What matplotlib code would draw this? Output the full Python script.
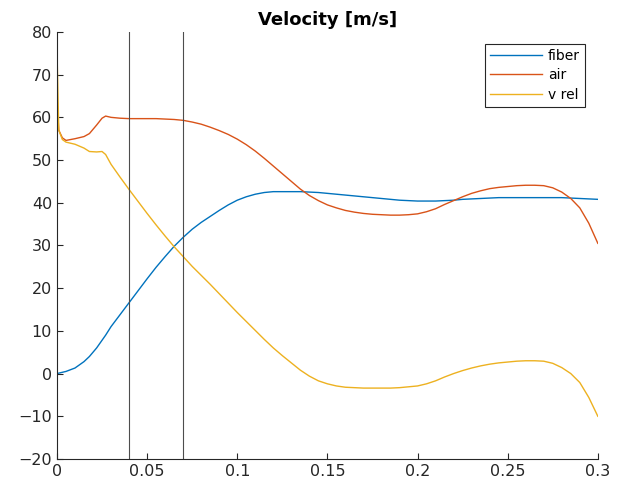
import numpy as np
import matplotlib.pyplot as plt

# values (x in m, velocity in m/s)
x = [0, 0.001, 0.003, 0.005, 0.01, 0.015, 0.018, 0.022, 0.025, 0.027, 0.03,
     0.035, 0.04, 0.045, 0.05, 0.055, 0.06, 0.065, 0.07, 0.075, 0.08, 0.085,
     0.09, 0.095, 0.1, 0.105, 0.11, 0.115, 0.12, 0.125, 0.13, 0.135, 0.14,
     0.145, 0.15, 0.155, 0.16, 0.165, 0.17, 0.175, 0.18, 0.185, 0.19, 0.195,
     0.2, 0.205, 0.21, 0.215, 0.22, 0.225, 0.23, 0.235, 0.24, 0.245, 0.25,
     0.255, 0.26, 0.265, 0.27, 0.275, 0.28, 0.285, 0.29, 0.295, 0.3]

fiber = [0, 0.1, 0.3, 0.5, 1.3, 2.8, 4.0, 6.0, 7.8, 9.0, 11.0,
         13.8, 16.6, 19.4, 22.2, 24.9, 27.4, 29.8, 31.9, 33.8, 35.4, 36.8,
         38.2, 39.5, 40.6, 41.4, 42.0, 42.4, 42.6, 42.6, 42.6, 42.6, 42.5,
         42.4, 42.2, 42.0, 41.8, 41.6, 41.4, 41.2, 41.0, 40.8, 40.6, 40.5,
         40.4, 40.4, 40.4, 40.5, 40.6, 40.8, 40.9, 41.0, 41.1, 41.2, 41.2,
         41.2, 41.2, 41.2, 41.2, 41.2, 41.2, 41.1, 41.0, 40.9, 40.8]

air = [64.0, 57.0, 55.2, 54.6, 55.0, 55.5, 56.2, 58.2, 59.8, 60.3, 60.0,
       59.8, 59.7, 59.7, 59.7, 59.7, 59.6, 59.5, 59.3, 58.9, 58.4, 57.7,
       56.9, 56.0, 54.9, 53.6, 52.1, 50.4, 48.6, 46.8, 45.0, 43.2, 41.7,
       40.5, 39.5, 38.8, 38.2, 37.8, 37.5, 37.3, 37.2, 37.1, 37.1, 37.2,
       37.4, 37.9, 38.6, 39.6, 40.5, 41.4, 42.2, 42.8, 43.3, 43.6, 43.8,
       44.0, 44.1, 44.1, 44.0, 43.5, 42.5, 41.0, 38.8, 35.2, 30.5]

vrel = [76.0, 57.0, 54.8, 54.2, 53.7, 52.8, 52.0, 51.9, 52.0, 51.3, 49.0,
        46.0, 43.1, 40.3, 37.5, 34.8, 32.2, 29.7, 27.4, 25.1, 23.0, 20.9,
        18.7, 16.5, 14.3, 12.2, 10.1, 8.0, 6.0, 4.2, 2.5, 0.8, -0.6,
        -1.7, -2.4, -2.9, -3.2, -3.3, -3.4, -3.4, -3.4, -3.4, -3.3, -3.1,
        -2.9, -2.4, -1.7, -0.8, 0.0, 0.7, 1.3, 1.8, 2.2, 2.5, 2.7,
        2.9, 3.0, 3.0, 2.9, 2.4, 1.4, 0.0, -2.1, -5.6, -10.0]

vlines = [0.04, 0.07]

fig = plt.figure(figsize=(6.26, 4.84), dpi=100)
ax = fig.add_axes([0.091, 0.0517, 0.864, 0.8823])

ax.plot(x, fiber, color='#0072BD', lw=1, label='fiber')
ax.plot(x, air, color='#D95319', lw=1, label='air')
ax.plot(x, vrel, color='#EDB120', lw=1, label='v rel')
for v in vlines:
    ax.axvline(v, color='#4d4d4d', lw=0.8)

ax.set_xlim(0, 0.3)
ax.set_ylim(-20, 80)
ax.set_xticks([0, 0.05, 0.1, 0.15, 0.2, 0.25, 0.3])
ax.set_xticklabels(['0', '0.05', '0.1', '0.15', '0.2', '0.25', '0.3'])
ax.set_yticks(range(-20, 81, 10))
ax.tick_params(direction='in', labelsize=11.5, colors='#262626', length=4)
ax.spines['top'].set_visible(False)
ax.spines['right'].set_visible(False)
for s in ['left', 'bottom']:
    ax.spines[s].set_color('#262626')
    ax.spines[s].set_linewidth(0.8)

ax.set_title('Velocity [m/s]', fontsize=13, fontweight='bold', pad=5)

leg = ax.legend(loc='upper right', bbox_to_anchor=(0.976, 0.972), borderaxespad=0,
                fontsize=10, fancybox=False, framealpha=1, edgecolor='#262626',
                handlelength=3.8, borderpad=0.35, labelspacing=0.4, handletextpad=0.4)
leg.get_frame().set_linewidth(0.8)

fig.savefig('out.png', dpi=100)
